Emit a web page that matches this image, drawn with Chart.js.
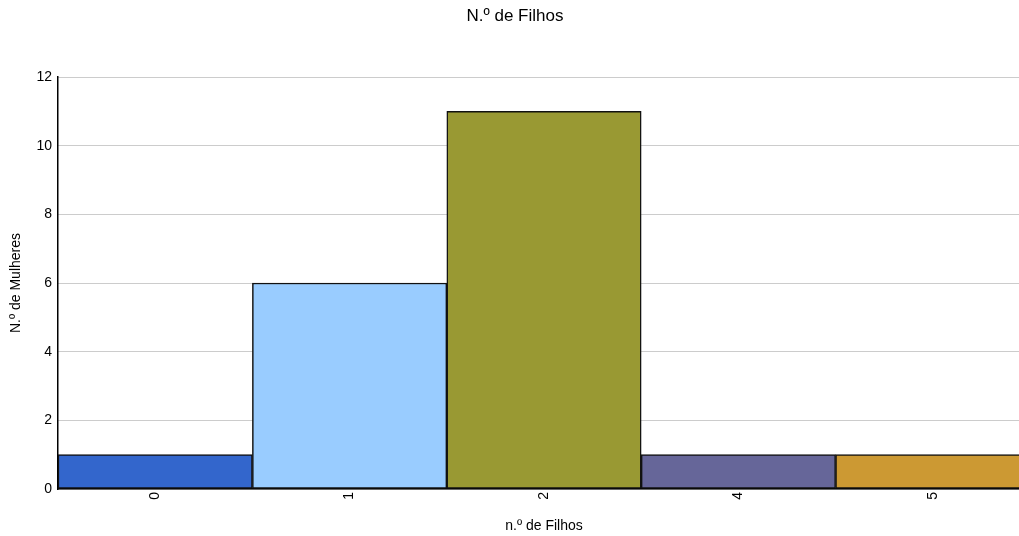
<!DOCTYPE html>
<html>
<head>
<meta charset="utf-8">
<script src="https://cdn.jsdelivr.net/npm/chart.js@4"></script>
<style>
  html, body { margin: 0; padding: 0; background: #fff; overflow: hidden; }
  #wrap { position: relative; width: 1040px; height: 536px; }
</style>
</head>
<body>
<div id="wrap"><canvas id="c" width="1040" height="536"></canvas></div>
<script>
// Number of children per woman: counts of women
const categories = ['0', '1', '2', '4', '5'];
const counts = [1, 6, 11, 1, 1];
const barColors = ['#3366cc', '#99ccff', '#999933', '#666699', '#cc9933'];
const yTicks = [0, 2, 4, 6, 8, 10, 12];

const FONT = "'Liberation Sans', Arial, sans-serif";

new Chart(document.getElementById('c'), {
  type: 'bar',
  data: {
    labels: categories,
    datasets: [{
      data: counts,
      backgroundColor: barColors,
      borderColor: '#111',
      borderWidth: 1.5,
      borderSkipped: false,
      barPercentage: 1,
      categoryPercentage: 1
    }]
  },
  options: {
    responsive: false,
    animation: false,
    layout: { padding: { left: 0, right: 10, top: 0, bottom: 0 } },
    plugins: {
      legend: { display: false },
      tooltip: { enabled: false },
      title: {
        display: true,
        text: 'N.º de Filhos',
        color: '#000',
        font: { family: FONT, size: 17, weight: 'normal' },
        padding: { top: 6, bottom: 50.6 }
      }
    },
    scales: {
      x: {
        grid: { display: false, drawTicks: false, tickLength: 0 },
        border: { display: true, color: '#000', width: 1.5 },
        ticks: {
          color: '#000',
          font: { family: FONT, size: 14 },
          minRotation: 90,
          maxRotation: 90,
          padding: 3
        },
        title: {
          display: true,
          text: 'n.º de Filhos',
          color: '#000',
          font: { family: FONT, size: 14 },
          padding: { top: 4, bottom: 1 }
        },
        afterFit: s => { s.height = 47; }
      },
      y: {
        min: 0,
        max: 12,
        afterBuildTicks: s => { s.ticks = yTicks.map(v => ({ value: v })); },
        grid: {
          color: '#999',
          lineWidth: 1,
          drawTicks: false
        },
        // dash applies to the grid lines; the axis line itself stays solid
        border: { display: true, color: '#000', width: 1.5, dash: [1, 1] },
        ticks: {
          color: '#000',
          font: { family: FONT, size: 14 },
          padding: 6
        },
        title: {
          display: true,
          text: 'N.º de Mulheres',
          color: '#000',
          font: { family: FONT, size: 14 },
          padding: { top: 8, bottom: 4 }
        },
        afterFit: s => { s.width = 58; }
      }
    }
  }
});
</script>
</body>
</html>
